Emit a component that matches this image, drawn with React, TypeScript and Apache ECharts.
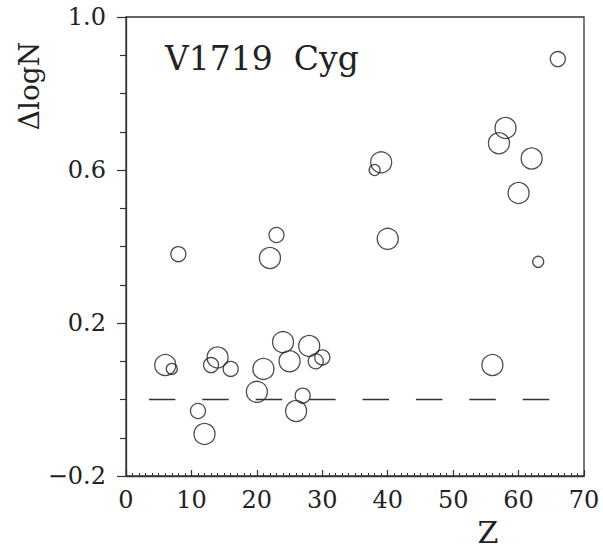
import React, { useEffect, useRef } from "react";
import * as echarts from "echarts";

// Atomic number Z of each element
const zValues = [6, 7, 8, 11, 12, 13, 14, 16, 20, 21, 22, 23, 24, 25, 26, 27, 28, 29, 30, 38, 39, 40, 56, 57, 58, 60, 62, 63, 66];
// Abundance difference ΔlogN
const dLogN = [0.09, 0.08, 0.38, -0.03, -0.09, 0.09, 0.11, 0.08, 0.02, 0.08, 0.37, 0.43, 0.15, 0.10, -0.03, 0.01, 0.14, 0.10, 0.11, 0.60, 0.62, 0.42, 0.09, 0.67, 0.71, 0.54, 0.63, 0.36, 0.89];
// Circle class (1 = small, 2 = medium, 3 = large)
const circleClass = [3, 1, 2, 2, 3, 2, 3, 2, 3, 3, 3, 2, 3, 3, 3, 2, 3, 2, 2, 1, 3, 3, 3, 3, 3, 3, 3, 1, 2];
// Reference zero line extent in Z
const refLineZ = [3.5, 64.8];
const refLineValue = 0;

const xTicks = { min: 0, max: 70, step: 10 };
const yTicks = { min: -0.2, max: 1.0, step: 0.4 };

const starName = "V1719  Cyg";

export default function App() {
  const ref = useRef<HTMLDivElement>(null);
  useEffect(() => {
    if (!ref.current) return;
    const chart = echarts.init(ref.current, undefined, { renderer: "svg" });
    const font = "DejaVu Serif";
    const ink = "#222";
    const sizeMap: Record<number, number> = { 1: 11, 2: 15, 3: 21 };
    const points = zValues.map((z, i) => [z, dLogN[i], circleClass[i]]);
    chart.setOption({
      animation: false,
      backgroundColor: "#fff",
      grid: {
        left: 126,
        right: 19,
        top: 17,
        bottom: 73,
        show: true,
        borderColor: "#333",
        borderWidth: 1.3,
        backgroundColor: "transparent",
      },
      xAxis: {
        type: "value",
        min: xTicks.min,
        max: xTicks.max,
        interval: xTicks.step,
        axisLine: { show: true, onZero: false, lineStyle: { color: "#333", width: 1.3 } },
        axisTick: { show: true, inside: true, length: 6, lineStyle: { color: "#333", width: 1.2 } },
        minorTick: { show: true, splitNumber: 10, length: 3, lineStyle: { color: "#333", width: 1 } },
        splitLine: { show: false },
        axisLabel: { fontFamily: font, fontSize: 24, color: ink, margin: 12 },
      },
      yAxis: {
        type: "value",
        min: yTicks.min,
        max: yTicks.max,
        interval: yTicks.step,
        axisLine: { show: true, onZero: false, lineStyle: { color: "#333", width: 1.3 } },
        axisTick: { show: true, inside: false, length: 9, lineStyle: { color: "#333", width: 1.2 } },
        minorTick: { show: true, splitNumber: 4, length: 6, lineStyle: { color: "#333", width: 1.2 } },
        splitLine: { show: false },
        axisLabel: {
          fontFamily: font,
          fontSize: 24,
          color: ink,
          margin: 20,
          formatter: (v: number) => (v < 0 ? "\u2212" + Math.abs(v).toFixed(1) : v.toFixed(1)),
        },
      },
      series: [
        {
          type: "line",
          data: refLineZ.map((z) => [z, refLineValue]),
          symbol: "none",
          silent: true,
          lineStyle: { color: "#333", width: 1.3, type: [26.5, 26.9] },
        },
        {
          type: "scatter",
          data: points,
          symbol: "circle",
          symbolSize: (val: number[]) => sizeMap[val[2]],
          itemStyle: { color: "rgba(0,0,0,0)", borderColor: ink, borderWidth: 1.3 },
        },
      ],
      graphic: [
        {
          type: "text",
          left: 165,
          top: 42,
          style: { text: starName, fontFamily: font, fontSize: 33, fill: ink },
        },
        {
          type: "text",
          x: 29,
          y: 86,
          rotation: Math.PI / 2,
          style: {
            text: "ΔlogN",
            fontFamily: font,
            fontSize: 28,
            fill: ink,
            align: "center",
            verticalAlign: "middle",
          },
        },
        {
          type: "text",
          x: 488,
          y: 532,
          style: {
            text: "Z",
            fontFamily: font,
            fontSize: 30,
            fill: ink,
            align: "center",
            verticalAlign: "middle",
          },
        },
      ],
    });
    return () => chart.dispose();
  }, []);
  return (
    <div
      ref={ref}
      style={{ position: "fixed", left: 0, top: 0, width: 603, height: 549, background: "#fff" }}
    />
  );
}
